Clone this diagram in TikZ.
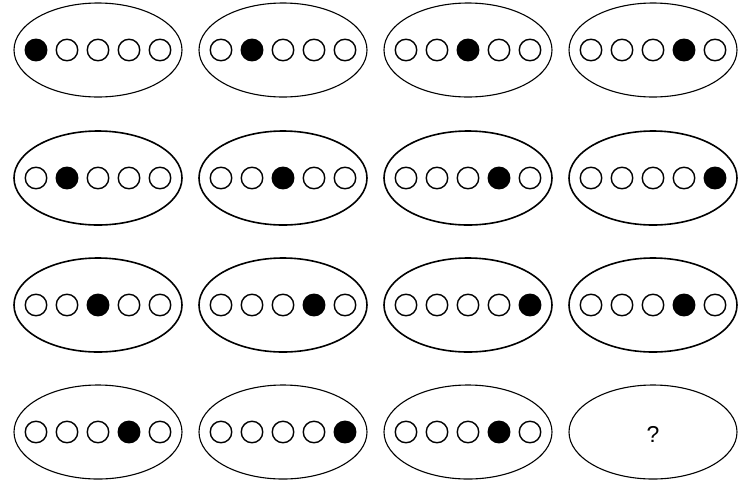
\documentclass[tikz,border=0pt]{standalone}
\usepackage{fontspec}
\setmainfont{Liberation Sans}
\usetikzlibrary{shapes.geometric}
\tikzset{
  frame/.style={ellipse, draw, minimum width=168pt, minimum height=94pt, inner sep=0pt},
  dot/.style={circle, draw, minimum size=21.5pt, inner sep=0pt},
  full/.style={dot, fill=black},
}
\begin{document}
\begin{tikzpicture}[x=1pt, y=-1pt]
  \useasboundingbox (0,0) rectangle (744,483);
  % rows: number / y / line width / filled dot of each column (0 = question)
  \foreach \r/\y/\lw/\fills in {1/50/1.1/{1,2,3,4}, 2/178/1.6/{2,3,4,5},
                                3/305/1.6/{3,4,5,4}, 4/432/1.1/{4,5,4,0}} {
    \foreach \f [count=\c] in \fills {
      \node[frame, line width=\lw pt] (e\r\c) at ({98+185*(\c-1)}, \y) {};
      \ifnum\f=0
        \node[font=\fontsize{23}{26}\selectfont] (q\r\c) at ([yshift=-2pt]e\r\c) {?};
      \else
        % the five small circles
        \foreach \k in {1,...,5} {
          \ifnum\k=\f\def\kind{full}\else\def\kind{dot}\fi
          \node[\kind, line width=1.4pt] (d\r\c\k) at ({98+185*(\c-1)+31*(\k-3)}, \y) {};
        }
      \fi
    }
  }
\end{tikzpicture}
\end{document}
